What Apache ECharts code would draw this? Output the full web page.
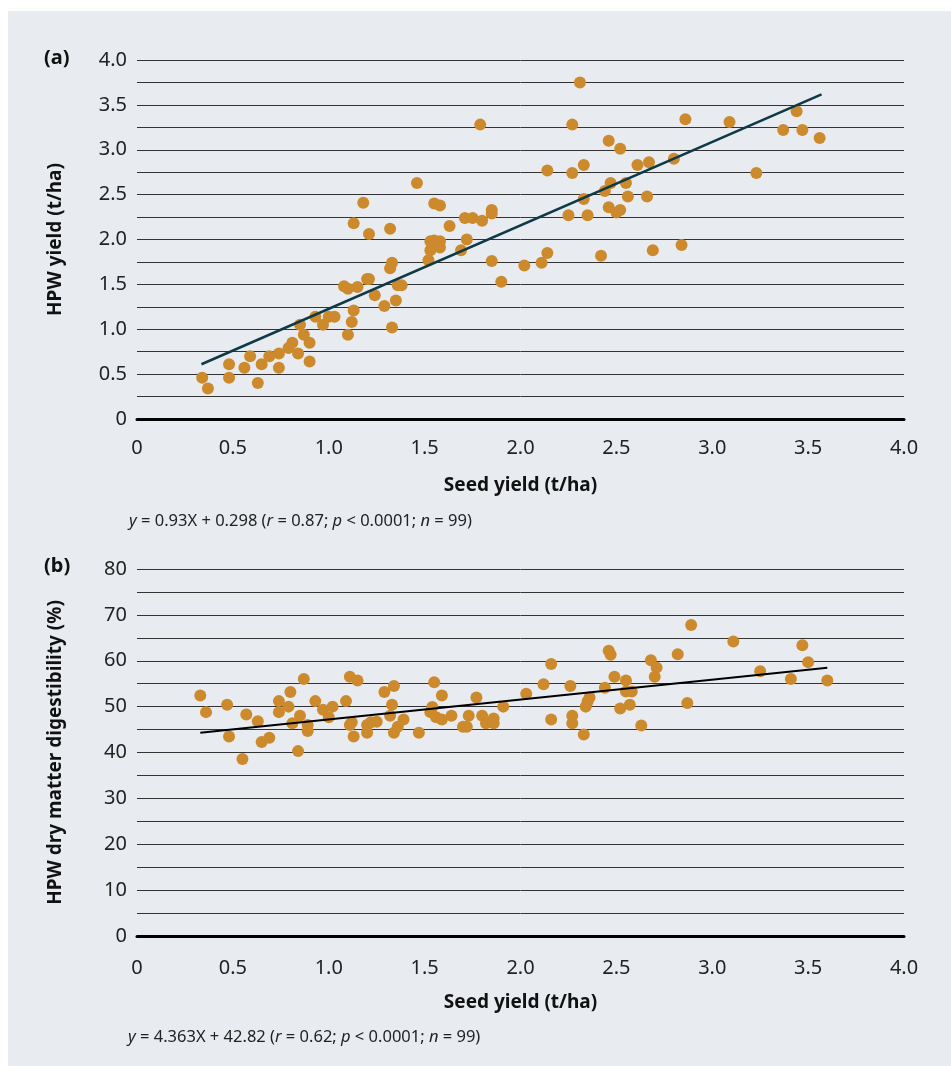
<!DOCTYPE html>
<html>
<head>
<meta charset="utf-8">
<script src="https://cdn.jsdelivr.net/npm/echarts@6/dist/echarts.min.js"></script>
<style>
html,body{margin:0;padding:0;background:#fff;}
#panel{position:absolute;left:8px;top:11px;width:943px;height:1055px;background:#e8ecf0;}
#chart{position:absolute;left:0;top:0;width:951px;height:1066px;}
</style>
</head>
<body>
<div id="panel"></div>
<div id="chart"></div>
<script>
// Panel (a): seed yield vs HPW yield (t/ha)
const seedA = [0.34,0.37,0.48,0.48,0.56,0.59,0.63,0.65,0.69,0.74,0.74,0.79,0.81,0.84,0.85,0.87,0.90,0.90,0.93,0.97,1.00,1.03,1.08,1.10,1.15,1.10,1.12,1.13,1.13,1.18,1.21,1.20,1.21,1.24,1.29,1.32,1.33,1.32,1.33,1.35,1.36,1.38,1.46,1.52,1.53,1.55,1.58,1.53,1.55,1.58,1.58,1.63,1.69,1.71,1.72,1.75,1.79,1.80,1.85,1.85,1.85,1.90,2.02,2.11,2.14,2.14,2.25,2.27,2.27,2.31,2.33,2.33,2.35,2.42,2.44,2.46,2.46,2.47,2.50,2.52,2.52,2.55,2.56,2.61,2.66,2.67,2.69,2.80,2.84,2.86,3.09,3.23,3.37,3.44,3.47,3.56];
const hpwA  = [0.46,0.34,0.61,0.46,0.57,0.70,0.40,0.61,0.70,0.73,0.57,0.79,0.85,0.73,1.05,0.94,0.85,0.64,1.14,1.05,1.14,1.14,1.48,1.45,1.47,0.94,1.08,1.21,2.18,2.41,2.06,1.56,1.56,1.38,1.26,2.12,1.74,1.68,1.02,1.32,1.49,1.49,2.63,1.77,1.88,2.40,2.38,1.98,1.99,1.98,1.91,2.15,1.88,2.24,2.00,2.24,3.28,2.21,2.33,2.29,1.76,1.53,1.71,1.74,1.85,2.77,2.27,2.74,3.28,3.75,2.83,2.45,2.27,1.82,2.54,2.36,3.10,2.63,2.30,2.33,3.01,2.63,2.48,2.83,2.48,2.86,1.88,2.90,1.94,3.34,3.31,2.74,3.22,3.43,3.22,3.13];
const fitA = [[0.336,0.61],[3.57,3.618]];

// Panel (b): seed yield vs HPW dry matter digestibility (%)
const seedB = [0.33,0.36,0.47,0.48,0.55,0.57,0.63,0.65,0.69,0.74,0.74,0.79,0.80,0.81,0.84,0.85,0.87,0.89,0.89,0.93,0.97,1.00,1.02,1.09,1.11,1.11,1.12,1.13,1.15,1.20,1.20,1.22,1.25,1.29,1.32,1.33,1.34,1.34,1.36,1.39,1.47,1.53,1.54,1.55,1.56,1.59,1.59,1.64,1.70,1.72,1.73,1.77,1.80,1.82,1.86,1.86,1.91,2.03,2.12,2.16,2.16,2.26,2.27,2.27,2.33,2.34,2.35,2.36,2.44,2.46,2.47,2.49,2.52,2.55,2.55,2.57,2.58,2.63,2.68,2.70,2.71,2.82,2.87,2.89,3.11,3.25,3.41,3.47,3.50,3.60];
const digB  = [52.4,48.8,50.4,43.5,38.6,48.3,46.8,42.3,43.2,51.2,48.8,50.0,53.2,46.4,40.3,48.0,56.0,46.0,44.7,51.2,49.3,47.7,50.0,51.2,56.5,46.0,46.6,43.5,55.7,46.0,44.3,46.6,46.7,53.2,48.0,50.4,54.5,44.3,45.6,47.2,44.3,48.8,49.9,55.3,47.7,52.4,47.2,48.0,45.6,45.6,48.0,52.0,48.0,46.4,47.4,46.4,50.0,52.8,54.9,59.3,47.2,54.5,48.0,46.4,43.9,50.0,51.1,52.0,54.1,62.2,61.3,56.5,49.6,55.7,53.3,50.4,53.3,45.9,60.1,56.5,58.5,61.4,50.8,67.8,64.2,57.7,56.0,63.4,59.7,55.7];
const fitB = [[0.33,44.3],[3.60,58.5]];

const xTicks = ['0','0.5','1.0','1.5','2.0','2.5','3.0','3.5','4.0'];
const yTicksA = ['0','0.5','1.0','1.5','2.0','2.5','3.0','3.5','4.0'];
const yTicksB = ['0','10','20','30','40','50','60','70','80'];

const captionA = '{i|y} = 0.93X + 0.298 ({i|r} = 0.87; {i|p} < 0.0001; {i|n} = 99)';
const captionB = '{i|y} = 4.363X + 42.82 ({i|r} = 0.62; {i|p} < 0.0001; {i|n} = 99)';

const FONT = 'Noto Sans';
const DOT = '#cc8a2d';

function xLabel(v){ const i = Math.round(v*2); return Math.abs(v*2-i)<1e-6 ? xTicks[i] : ''; }
function yLabelA(v){ const i = Math.round(v*2); return Math.abs(v*2-i)<1e-6 ? yTicksA[i] : ''; }
function yLabelB(v){ const i = Math.round(v/10); return Math.abs(v/10-i)<1e-6 ? yTicksB[i] : ''; }

function xAxisCfg(gridIndex, labelMargin){
  return {
    type:'value', gridIndex, min:0, max:4, interval:0.5,
    name:'Seed yield (t/ha)', nameLocation:'middle', nameGap:57,
    nameTextStyle:{fontFamily:FONT,fontSize:19,fontWeight:'bold',color:'#111'},
    axisLine:{show:true,onZero:false,lineStyle:{color:'#000',width:3}},
    axisTick:{show:false},
    splitLine:{show:false},
    axisLabel:{formatter:xLabel,fontFamily:FONT,fontSize:20,color:'#222',margin:labelMargin}
  };
}
function yAxisCfg(gridIndex, max, interval, fmt, name){
  return {
    type:'value', gridIndex, min:0, max, interval,
    name, nameLocation:'middle', nameGap:72, nameRotate:90,
    nameTextStyle:{fontFamily:FONT,fontSize:19,fontWeight:'bold',color:'#111'},
    axisLine:{show:false}, axisTick:{show:false},
    splitLine:{show:true,lineStyle:{color:'#333',width:1}},
    axisLabel:{formatter:fmt,fontFamily:FONT,fontSize:20,color:'#222',margin:10}
  };
}

const chart = echarts.init(document.getElementById('chart'), null, {renderer:'canvas'});
chart.setOption({
  backgroundColor:'transparent',
  animation:false,
  grid:[
    {left:137, top:60, width:767, height:359},
    {left:137, top:569, width:767, height:367}
  ],
  xAxis:[xAxisCfg(0,19), xAxisCfg(1,22)],
  yAxis:[
    yAxisCfg(0,4,0.25,yLabelA,'HPW yield (t/ha)'),
    yAxisCfg(1,80,5,yLabelB,'HPW dry matter digestibility (%)')
  ],
  series:[
    {type:'scatter', xAxisIndex:0, yAxisIndex:0, symbolSize:12, itemStyle:{color:DOT,opacity:1},
     data: seedA.map((x,i)=>[x,hpwA[i]]), z:3},
    {type:'line', xAxisIndex:0, yAxisIndex:0, data:fitA, symbol:'none', lineStyle:{color:'#0e3a47',width:2.5}, z:4},
    {type:'scatter', xAxisIndex:1, yAxisIndex:1, symbolSize:12, itemStyle:{color:DOT,opacity:1},
     data: seedB.map((x,i)=>[x,digB[i]]), z:3},
    {type:'line', xAxisIndex:1, yAxisIndex:1, data:fitB, symbol:'none', lineStyle:{color:'#000',width:2}, z:4}
  ],
  graphic:[
    {type:'text', left:44, top:48, style:{text:'(a)', font:'bold 20px "Noto Sans"', fill:'#111'}},
    {type:'text', left:44, top:556, style:{text:'(b)', font:'bold 20px "Noto Sans"', fill:'#111'}},
    {type:'text', left:129, top:513, style:{text:captionA, font:'16.5px "Noto Sans"', fill:'#222',
      rich:{i:{fontStyle:'italic',fontFamily:FONT,fontSize:16.5,fill:'#222'}}}},
    {type:'text', left:128, top:1029, style:{text:captionB, font:'16.5px "Noto Sans"', fill:'#222',
      rich:{i:{fontStyle:'italic',fontFamily:FONT,fontSize:16.5,fill:'#222'}}}}
  ]
});
</script>
</body>
</html>
